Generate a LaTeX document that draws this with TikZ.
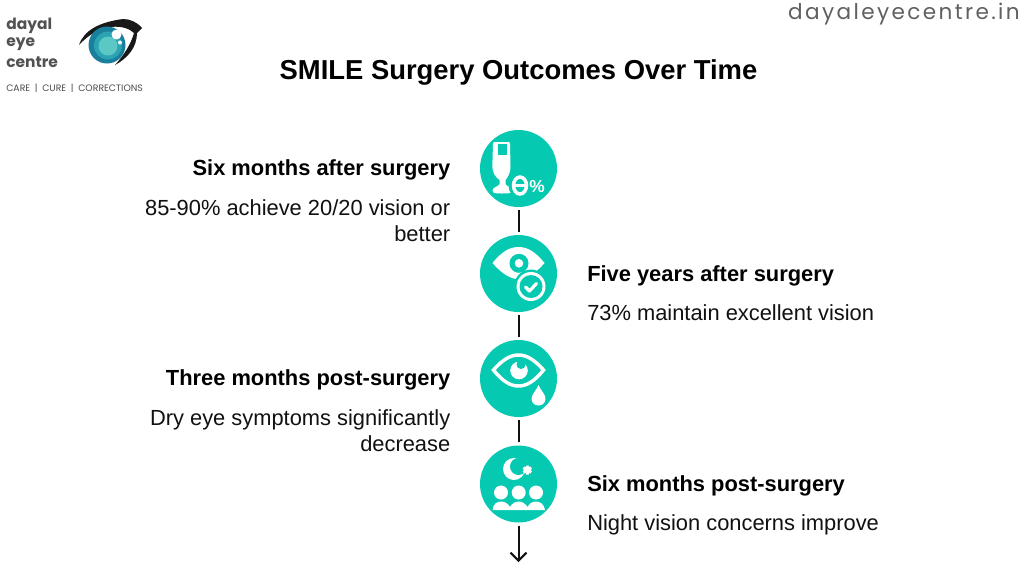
\documentclass[tikz,border=0pt]{standalone}
\usepackage{fontspec}
\setmainfont{Liberation Sans}
\newfontfamily\logofont{Poppins}
\newfontfamily\urlfont[LetterSpace=11]{Poppins}
\usetikzlibrary{arrows.meta}
\definecolor{tealc}{HTML}{05C9B0}
\definecolor{ink}{HTML}{111111}
\definecolor{irisa}{HTML}{1A7F9C}
\definecolor{irisb}{HTML}{2BA3B3}
\definecolor{irisc}{HTML}{5CC8C6}
\tikzset{
  iconc/.style={circle,fill=tealc,minimum size=57.75pt,inner sep=0pt},
  head/.style={font=\fontsize{16.4}{16}\selectfont\bfseries,text=black,inner sep=0pt},
  bodyl/.style={font=\fontsize{16.4}{19.5}\selectfont,text=ink,inner sep=0pt,align=right},
  bodyr/.style={font=\fontsize{16.4}{19.5}\selectfont,text=ink,inner sep=0pt,align=left},
  conn/.style={draw=ink,line width=1.5pt},
  wf/.style={fill=white,draw=none},
  logotxt/.style={anchor=west,inner sep=0pt,text=black!68,font=\logofont\bfseries\fontsize{11.6}{11}\selectfont},
}
\begin{document}
\begin{tikzpicture}[x=0.75pt,y=-0.75pt]
\useasboundingbox (0,0) rectangle (1024,576);
\fill[white] (0,0) rectangle (1024,576);
% logo
\node[logotxt] (l1) at (6,25.5) {dayal};
\node[logotxt] (l2) at (6,44) {eye};
\node[logotxt] (l3) at (6,62) {centre};
\node[anchor=west,inner sep=0pt,text=black!70,font=\logofont\fontsize{7}{7}\selectfont] (l4) at (6,88) {CARE\,\,\,|\,\,\,CURE\,\,\,|\,\,\,CORRECTIONS};
\fill[black!90] (79,45) .. controls (84,30) and (100,22) .. (123,19) .. controls (130,19) and (137,22) .. (142,28) -- (137,33) .. controls (137,47) and (128,58) .. (115,65) .. controls (124,55) and (131,44) .. (134,33) .. controls (125,24) and (100,22) .. (79,45) -- cycle;
\fill[irisa] (107,45) circle (18.5);
\fill[irisb] (108,45.5) circle (14);
\fill[irisc] (108,46) circle (9.5);
\fill[white] (116.5,34.5) circle (5);
\fill[white] (120,42.5) circle (2);
% url and title
\node[anchor=east,inner sep=0pt,text=black!62,font=\urlfont\fontsize{16.2}{17}\selectfont] (url) at (1020,14.5) {dayaleyecentre.in};
\node[inner sep=0pt,font=\fontsize{20.55}{20}\selectfont\bfseries,text=black] (title) at (518.5,72) {SMILE Surgery Outcomes Over Time};
% circles
\node[iconc] (c1) at (518.5,168.5) {};
\node[iconc] (c2) at (518.5,273.5) {};
\node[iconc] (c3) at (518.5,378.5) {};
\node[iconc] (c4) at (518.5,484) {};
\coordinate (end) at (518.5,562);
\draw[conn,shorten <=2.2pt,shorten >=2.2pt] (c1) -- (c2);
\draw[conn,shorten <=2.2pt,shorten >=2.2pt] (c2) -- (c3);
\draw[conn,shorten <=2.2pt,shorten >=2.2pt] (c3) -- (c4);
\draw[conn,shorten <=2.2pt,-{Straight Barb[length=6pt,width=12pt,line width=1.5pt]}] (c4) -- (end);
% icon 1: glass, zero percent
\fill[wf] (493,144) .. controls (493,142) and (494,142) .. (495,142) -- (508,142) .. controls (509,142) and (510,142) .. (510,144) -- (510.5,166) .. controls (510.5,174) and (507,178) .. (505.5,180) -- (505.5,184) .. controls (507,187) and (512.5,187) .. (512.5,190.5) .. controls (512.5,193.5) and (508,193.5) .. (502,193.5) .. controls (496,193.5) and (492.5,193.5) .. (492.5,190.5) .. controls (492.5,187) and (498,187) .. (499.5,184) -- (499.5,180) .. controls (495,177) and (492.3,172) .. (492.3,166) -- cycle;
\fill[tealc] (498,144) rectangle (507,155);
\fill[tealc] (520,185.5) ellipse (11.5 and 13);
\draw[white,line width=2.6pt] (520,185.5) ellipse (6.5 and 8.5);
\draw[white,line width=2.2pt] (514,185.5) -- (526,185.5);
\node[inner sep=0pt,text=white,font=\fontsize{13}{13}\selectfont\bfseries] (pc) at (537,186.5) {\%};
% icon 2: eye with check
\fill[wf] (492.5,263) .. controls (503,250) and (511,247) .. (518.5,247) .. controls (526,247) and (534,250) .. (544.5,263) .. controls (534,275) and (526,279) .. (518.5,279) .. controls (511,279) and (503,275) .. (492.5,263) -- cycle;
\fill[tealc] (519,263.3) circle (9.5);
\fill[white] (519,263.3) circle (4.3);
\fill[tealc] (531,286.5) circle (17);
\fill[white] (531,286.5) circle (14.5);
\fill[tealc] (531,286.5) circle (11.5);
\draw[white,line width=2.4pt,line cap=round,line join=round] (525.5,287) -- (529.5,291) -- (536.5,283.5);
% icon 3: eye and drop
\draw[white,line width=2.6pt] (493.5,370) .. controls (503,359) and (511,355) .. (518.5,355) .. controls (526,355) and (534,359) .. (543.5,370) .. controls (534,382) and (526,386) .. (518.5,386) .. controls (511,386) and (503,382) .. (493.5,370) -- cycle;
\fill[white] (519,370.5) circle (8.8);
\fill[tealc] (521,364.5) circle (4.5);
\fill[wf] (538.5,385) .. controls (541,391) and (545.5,394) .. (545.5,399) .. controls (545.5,403) and (542,405.5) .. (538.5,405.5) .. controls (535,405.5) and (531.5,403) .. (531.5,399) .. controls (531.5,394) and (536,391) .. (538.5,385) -- cycle;
% icon 4: moon, star, people
\fill[white] (514,469) circle (11);
\fill[tealc] (518.5,466.5) circle (8.5);
\draw[white,line width=2.2pt] (527.3,465.5) -- (527.3,474.5) (523.4,467.7) -- (531.2,472.3) (523.4,472.3) -- (531.2,467.7);
\fill[white] (501,492.5) circle (7);
\fill[white] (518.7,492.5) circle (7);
\fill[white] (536,492.5) circle (7);
\fill[white] (492.5,510) .. controls (493,504) and (497,501.5) .. (501,501.5) .. controls (505,501.5) and (508.5,504) .. (510,507) .. controls (512,503.5) and (515,501.5) .. (518.7,501.5) .. controls (522,501.5) and (525.5,503.5) .. (527.5,507) .. controls (529,504) and (532,501.5) .. (536,501.5) .. controls (540,501.5) and (544,504) .. (545,510) -- cycle;
% text
\node[head,anchor=east] (h1) at (450.5,170) {Six months after surgery};
\node[bodyl,anchor=north east] (b1) at (450.5,199) {85-90\% achieve 20/20 vision or\\better};
\node[head,anchor=west] (h2) at (587,275.5) {Five years after surgery};
\node[bodyr,anchor=north west] (b2) at (587,304) {73\% maintain excellent vision};
\node[head,anchor=east] (h3) at (450.5,380) {Three months post-surgery};
\node[bodyl,anchor=north east] (b3) at (450.5,409) {Dry eye symptoms significantly\\decrease};
\node[head,anchor=west] (h4) at (587,485.5) {Six months post-surgery};
\node[bodyr,anchor=north west] (b4) at (587,514) {Night vision concerns improve};
\end{tikzpicture}
\end{document}
